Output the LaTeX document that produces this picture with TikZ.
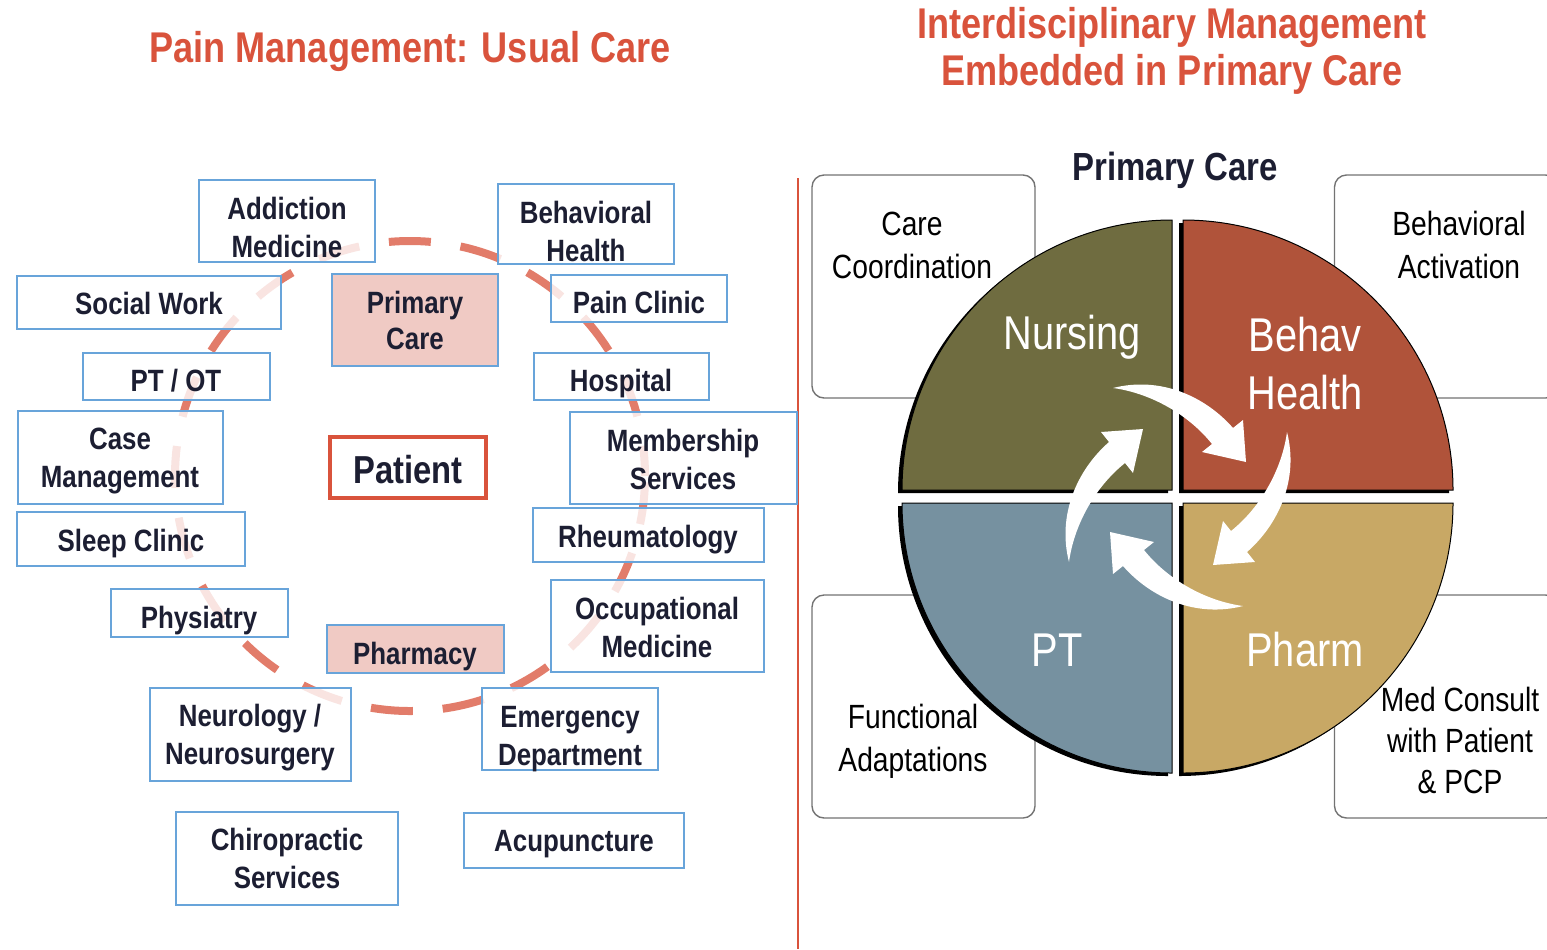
\documentclass[tikz,border=0pt]{standalone}
\usepackage{fontspec}
\setmainfont{Liberation Sans}
\newfontfamily\condfont[FakeStretch=0.84]{Liberation Sans}
\usepackage{tikz}
\usetikzlibrary{positioning,shapes,arrows}
\definecolor{titlered}{RGB}{217,83,60}
\definecolor{dashred}{RGB}{226,124,106}
\definecolor{boxblue}{RGB}{104,164,218}
\definecolor{boxpink}{RGB}{238,196,190}
\definecolor{inkblue}{RGB}{28,30,50}
\definecolor{qolive}{RGB}{111,108,64}
\definecolor{qrust}{RGB}{176,83,58}
\definecolor{qslate}{RGB}{118,145,160}
\definecolor{qtan}{RGB}{200,168,101}

\begin{document}
\begin{tikzpicture}[x=0.5pt, y=-0.5pt,
  title/.style={text=titlered, align=center, font=\condfont\bfseries\fontsize{21.5}{23.5}\selectfont},
  svc/.style={draw=boxblue, line width=1pt, fill=white, fill opacity=0.8, inner sep=0pt},
  hub/.style={svc, fill=boxpink, fill opacity=0.9},
  svctext/.style={anchor=north, inner sep=0pt, text height=11pt, align=center, text=inkblue,
    font=\condfont\bfseries\fontsize{15.4}{19}\selectfont},
  twoline/.style={svctext, text height=30pt},
  patient/.style={draw=titlered, line width=2pt, fill=white, inner sep=0pt, text=inkblue,
    text height=17pt, font=\condfont\bfseries\fontsize{19.5}{22}\selectfont},
  ring/.style={draw=dashred, line width=4pt, dash pattern=on 21pt off 15pt, dash phase=32.8pt},
  rbox/.style={draw=black!55, line width=0.7pt, rounded corners=6pt, fill=white,
    minimum width=111.5pt, minimum height=111.5pt},
  rlbl/.style={align=center, text=black, font=\condfont\fontsize{16.8}{21.5}\selectfont},
  qlbl/.style={align=center, text=white, font=\condfont\fontsize{23.7}{29}\selectfont}]
\useasboundingbox (0,0) rectangle (1547,949);

\node[title] (lefttitle) at (410,51) {Pain Management: Usual Care};
\node[title] (righttitle) at (1172,51) {Interdisciplinary Management\\Embedded in Primary Care};
\draw[titlered, line width=1pt] (798,178) -- (798,949);

\draw[ring] (410,476) circle[radius=235];

\node[svc, minimum width=88pt, minimum height=41pt] (addict) at (287,221) {};
\node[svc, minimum width=88pt, minimum height=40pt] (behav) at (586,224) {};
\node[svc, minimum width=132pt, minimum height=26.5pt] (social) at (149,302) {};
\node[hub, minimum width=83pt, minimum height=46pt] (primary) at (415,320) {};
\node[svc, minimum width=88pt, minimum height=23.5pt] (pain) at (639,298) {};
\node[svc, minimum width=93.5pt, minimum height=23.5pt] (ptot) at (176,376) {};
\node[svc, minimum width=87.5pt, minimum height=23.5pt] (hosp) at (621,376) {};
\node[svc, minimum width=102.5pt, minimum height=46.5pt] (casem) at (120,457) {};
\node[svc, minimum width=113.5pt, minimum height=46pt] (member) at (683,458) {};
\node[svc, minimum width=114pt, minimum height=27pt] (sleep) at (131,539) {};
\node[svc, minimum width=115.5pt, minimum height=27pt] (rheum) at (648,535) {};
\node[svc, minimum width=88.5pt, minimum height=24pt] (physi) at (199,613) {};
\node[svc, minimum width=106.5pt, minimum height=46pt] (occup) at (657,626) {};
\node[hub, minimum width=88.5pt, minimum height=24pt] (pharm) at (415,649) {};
\node[svc, minimum width=100.5pt, minimum height=46.5pt] (neuro) at (250,734) {};
\node[svc, minimum width=88pt, minimum height=41pt] (emerg) at (570,729) {};
\node[svc, minimum width=111pt, minimum height=46.5pt] (chiro) at (287,858) {};
\node[svc, minimum width=110pt, minimum height=27.5pt] (acup) at (574,840) {};
\node[patient, minimum width=78pt, minimum height=30.5pt] (pat) at (408,467) {Patient};

\node[twoline] (addict-t) at ([yshift=-8.9pt]addict.north) {Addiction\\Medicine};
\node[twoline] (behav-t) at ([yshift=-8.9pt]behav.north) {Behavioral\\Health};
\node[svctext] (social-t) at ([yshift=-8.9pt]social.north) {Social Work};
\node[twoline, text height=29pt] (primary-t) at ([yshift=-9.2pt]primary.north) {Primary\\[-1pt]Care};
\node[svctext] (pain-t) at ([yshift=-8.9pt]pain.north) {Pain Clinic};
\node[svctext] (ptot-t) at ([yshift=-8.9pt]ptot.north) {PT / OT};
\node[svctext] (hosp-t) at ([yshift=-8.9pt]hosp.north) {Hospital};
\node[twoline] (casem-t) at ([yshift=-8.9pt]casem.north) {Case\\Management};
\node[twoline] (member-t) at ([yshift=-8.9pt]member.north) {Membership\\Services};
\node[svctext] (sleep-t) at ([yshift=-8.9pt]sleep.north) {Sleep Clinic};
\node[svctext] (rheum-t) at ([yshift=-8.9pt]rheum.north) {Rheumatology};
\node[svctext] (physi-t) at ([yshift=-8.9pt]physi.north) {Physiatry};
\node[twoline] (occup-t) at ([yshift=-8.9pt]occup.north) {Occupational\\Medicine};
\node[svctext] (pharm-t) at ([yshift=-8.9pt]pharm.north) {Pharmacy};
\node[twoline] (neuro-t) at ([yshift=-8.9pt]neuro.north) {Neurology /\\Neurosurgery};
\node[twoline] (emerg-t) at ([yshift=-8.9pt]emerg.north) {Emergency\\Department};
\node[twoline] (chiro-t) at ([yshift=-8.9pt]chiro.north) {Chiropractic\\Services};
\node[svctext] (acup-t) at ([yshift=-8.9pt]acup.north) {Acupuncture};

\node[text=inkblue, font=\condfont\bfseries\fontsize{19.6}{22}\selectfont] (pctitle) at (1175,170) {Primary Care};
\foreach \bx/\by/\nm in {923.5/286.5/cc, 1446/286.5/ba, 923.5/706.5/fa, 1446/706.5/mc}
  \node[rbox] (\nm) at (\bx,\by) {};

\foreach \cx/\cy/\a/\col in {1172/490/180/qolive, 1183/490/270/qrust, 1172/503/90/qslate, 1183/503/0/qtan} {
  \fill[black] ([shift={(-4,3)}]\cx,\cy) -- ++(\a:270) arc[start angle=\a, delta angle=90, radius=270] -- cycle;
  \filldraw[fill=\col, draw=black, line width=0.5pt] (\cx,\cy) -- ++(\a:270) arc[start angle=\a, delta angle=90, radius=270] -- cycle;
}

\foreach \r in {0,-90,-180,-270}
  \fill[white, rotate around={\r:(1178,497)}] (1113,388) .. controls (1160,376) and (1205,396) .. (1233,428)
    -- (1243,420) -- (1246,462) -- (1202,452) -- (1212,444) .. controls (1188,414) and (1150,393) .. (1113,388) -- cycle;

\node[qlbl] (nursing) at (1072,337) {Nursing};
\node[qlbl] (behavh) at (1305,364) {Behav\\Health};
\node[qlbl] (pt) at (1057,650) {PT};
\node[qlbl] (pharmq) at (1305,650) {Pharm};

\node[rlbl] (cc-t) at (912,245) {Care\\Coordination};
\node[rlbl] (ba-t) at (1459,245) {Behavioral\\Activation};
\node[rlbl] (fa-t) at (913,741) {Functional\\Adaptations};
\node[rlbl, font=\condfont\fontsize{16.8}{20.5}\selectfont] (mc-t) at (1460,740) {Med Consult\\with Patient\\\& PCP};
\end{tikzpicture}
\end{document}
